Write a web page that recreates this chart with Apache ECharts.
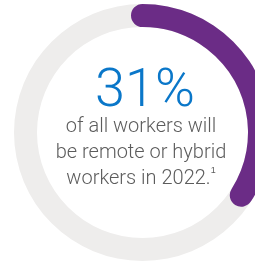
<!DOCTYPE html>
<html>
<head>
<meta charset="utf-8">
<script src="https://cdn.jsdelivr.net/npm/echarts@6/dist/echarts.min.js"></script>
<style>
  html, body { margin: 0; padding: 0; background: #fff; }
  #chart { width: 255px; height: 263px; }
</style>
</head>
<body>
<div id="chart"></div>
<script>
// share of workers remote or hybrid (arc as drawn in the picture)
var categories = ['Remote or hybrid'];
var shareValues = [34];
var shareMax = 100;
var headline = '31%';
var captionLines = ['of all workers will', 'be remote or hybrid', 'workers in 2022.{sup|1}'];

window.onload = function() {
	drawRing();
}

function drawRing() {
	var chart = echarts.init(document.getElementById('chart'));

	var option = {
		backgroundColor: '#ffffff',
		polar: {
			center: [142.5, 132.5],
			radius: [105.5, 128.5]
		},
		angleAxis: {
			min: 0,
			max: shareMax,
			startAngle: 90,
			clockwise: true,
			show: false
		},
		radiusAxis: {
			type: 'category',
			data: categories,
			show: false
		},
		series: [{
			type: 'bar',
			coordinateSystem: 'polar',
			data: shareValues,
			barWidth: '100%',
			roundCap: true,
			showBackground: true,
			backgroundStyle: { color: '#eeedec' },
			itemStyle: { color: '#6b2c86' },
			silent: true
		}],
		graphic: [{
			type: 'text',
			x: 145,
			y: 65,
			style: {
				text: headline,
				align: 'center',
				font: '300 54px Roboto, "Open Sans", sans-serif',
				fill: '#0a77c9'
			}
		}, {
			type: 'text',
			x: 141,
			y: 114,
			style: {
				text: captionLines.join('\n'),
				align: 'center',
				fontFamily: 'Roboto, "Open Sans", sans-serif',
				fontWeight: 300,
				fontSize: 20,
				lineHeight: 26,
				fill: '#5c5c5c',
				rich: {
					sup: { fontSize: 9, verticalAlign: 'top', fill: '#5c5c5c', padding: [0, 0, 9, 0] }
				}
			}
		}]
	};

	chart.setOption(option);
}
</script>
</body>
</html>
